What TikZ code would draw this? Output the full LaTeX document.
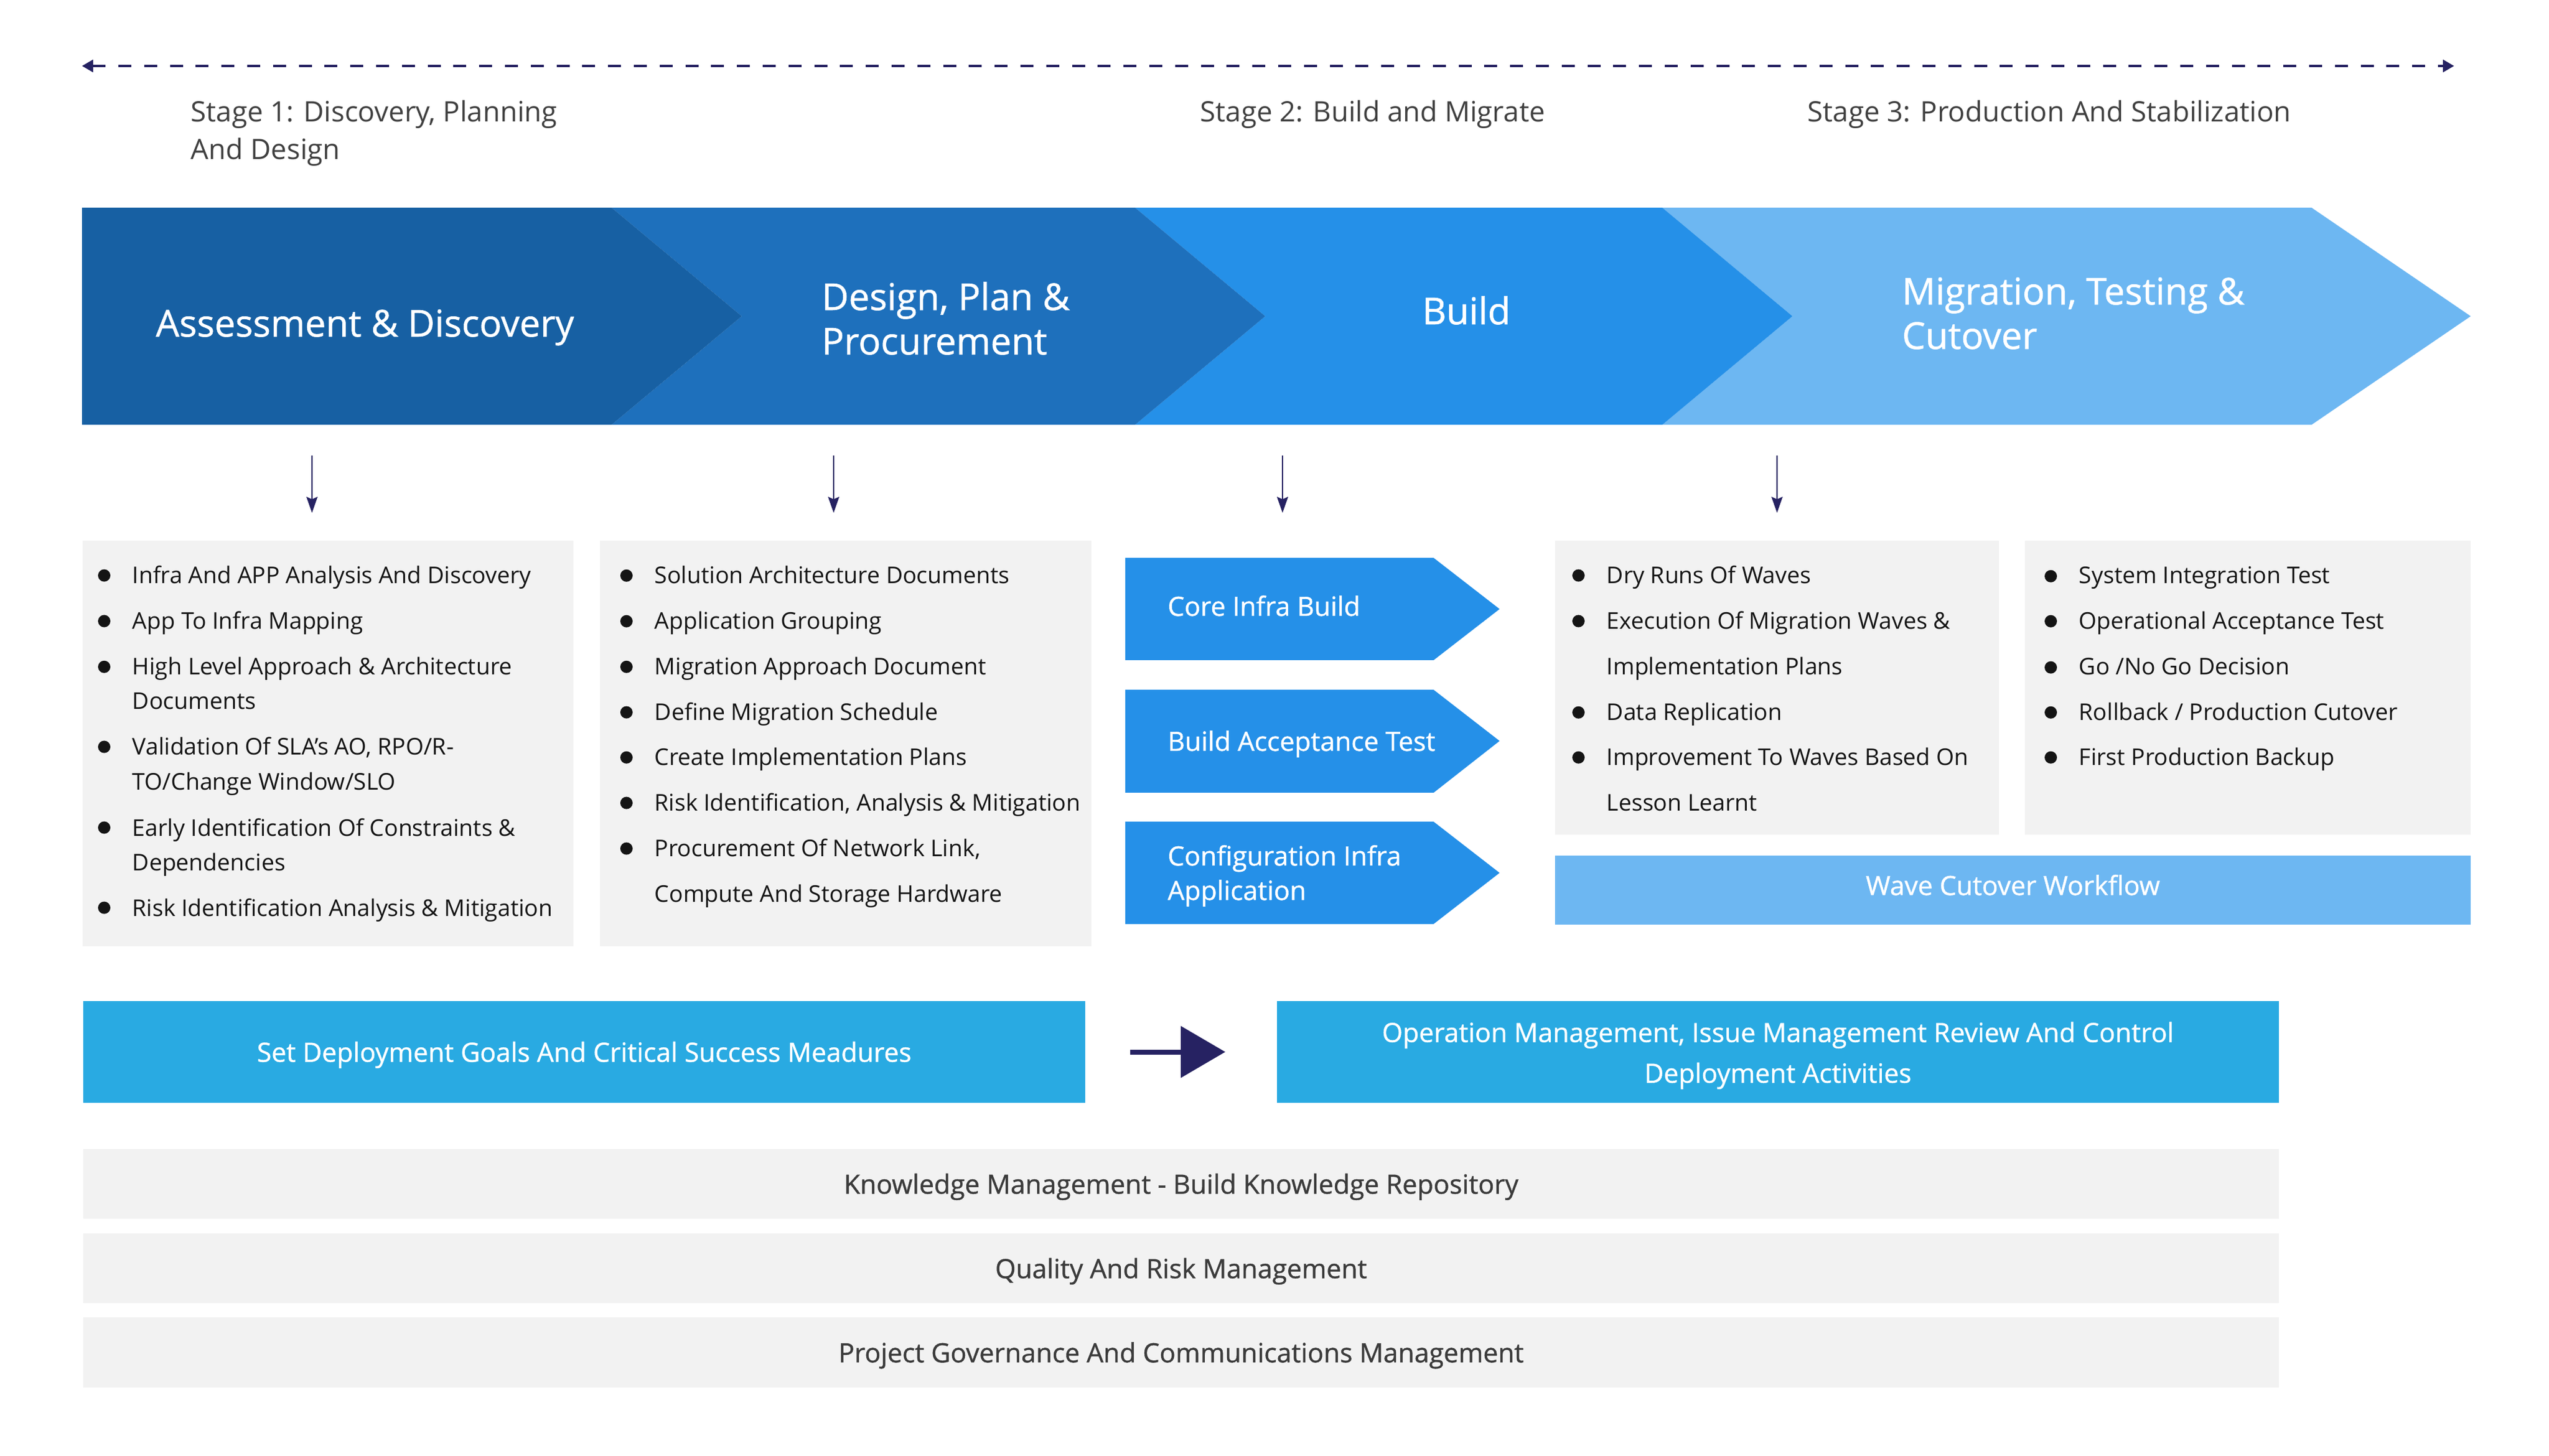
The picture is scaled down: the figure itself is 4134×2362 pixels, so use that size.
\documentclass[tikz,border=0pt]{standalone}
\usepackage{fontspec}
\setmainfont{Open Sans}
\newfontfamily\semib[FakeBold=0.9]{Open Sans}
\usetikzlibrary{arrows.meta,fit}
\definecolor{chevdark}{RGB}{23,96,163}
\definecolor{chevmid}{RGB}{30,112,188}
\definecolor{chevbright}{RGB}{37,144,232}
\definecolor{chevlight}{RGB}{109,183,242}
\definecolor{boxgray}{RGB}{242,242,242}
\definecolor{navy}{RGB}{38,34,98}
\definecolor{cyanbox}{RGB}{41,170,226}
\definecolor{stagegray}{RGB}{64,64,64}
\definecolor{itemtxt}{RGB}{20,20,20}
\definecolor{bargray}{RGB}{59,59,59}

\begin{document}
\begin{tikzpicture}[x=0.25pt,y=-0.25pt,
  stagetxt/.style={anchor=base west, align=left, inner sep=0, text=stagegray, font=\fontsize{11.4}{15.25}\selectfont},
  chevtxt/.style={anchor=base west, align=left, inner sep=0, text=white, font=\semib\fontsize{15}{18}\selectfont},
  pentxt/.style={anchor=base west, align=left, inner sep=0, text=white, font=\semib\fontsize{10.75}{14}\selectfont},
  itmA/.style={anchor=base west, align=left, inner sep=0, text=itemtxt, font=\fontsize{9.35}{14}\selectfont},
  itmB/.style={itmA, font=\fontsize{9.35}{18.5}\selectfont},
  graybox/.style={fill=boxgray, inner sep=0},
  bluebar/.style={fill=cyanbox, inner sep=0},
  bluetxt/.style={anchor=base, align=center, inner sep=0, text=white, font=\semib\fontsize{10.75}{16.5}\selectfont},
  bartxt/.style={anchor=base, inner sep=0, text=bargray, font=\semib\fontsize{10.75}{14}\selectfont},
  downarr/.style={draw=navy, line width=0.6pt, -{Stealth[length=6.5pt,width=4.5pt,inset=1pt]}},
  timeline/.style={draw=navy, line width=0.8pt, dash pattern=on 5.25pt off 5.2pt, {Triangle[length=4.5pt,width=5pt]}-{Triangle[length=4.5pt,width=5pt]}},
  bigarr/.style={draw=navy, line width=2pt, -{Triangle[length=18pt,width=20.5pt]}}]
\useasboundingbox (0,0) rectangle (4134,2362);
\fill[white] (0,0) rectangle (4134,2362);

% Timeline and stage titles
\coordinate (tl) at (133,107);
\coordinate (tr) at (3980,107);
\draw[timeline] (tl) -- (tr);
\node[stagetxt] (stage1) at (309,259) {Stage 1: Discovery, Planning\\And Design};
\node[stagetxt] (stage2) at (1946,198) {Stage 2: Build and Migrate};
\node[stagetxt] (stage3) at (2931,198) {Stage 3: Production And Stabilization};

% Chevron band
\fill[chevlight] (2696,337) -- (3749,337) -- (4007,513) -- (3749,689) -- (2696,689) -- (2907,513) -- cycle;
\fill[chevbright] (1841,337) -- (2696,337) -- (2907,513) -- (2696,689) -- (1841,689) -- (2052,513) -- cycle;
\fill[chevmid] (992,337) -- (1841,337) -- (2052,513) -- (1841,689) -- (992,689) -- (1203,513) -- cycle;
\fill[chevdark] (133,337) -- (992,337) -- (1203,513) -- (992,689) -- (133,689) -- cycle;
\node[chevtxt] (assess) at (252,546) {Assessment \& Discovery};
\node[chevtxt] (design) at (1332,575) {Design, Plan \&\\Procurement};
\node[chevtxt] (build) at (2306,526) {Build};
\node[chevtxt] (migrate) at (3084,566) {Migration, Testing \&\\Cutover};

% Down arrows
\foreach \x [count=\i] in {506,1352,2080,2882} {
  \coordinate (s\i) at (\x,739);
  \coordinate (e\i) at (\x,832);
  \draw[downarr] (s\i) -- (e\i);
}

% Activity boxes
\node[graybox, fit={(134,877) (930,1535)}] (box1) {};
\node[graybox, fit={(973,877) (1770,1535)}] (box2) {};
\node[graybox, fit={(2522,877) (3242,1354)}] (box3) {};
\node[graybox, fit={(3284,877) (4007,1354)}] (box4) {};

\node[itmA] (a1) at (214,947) {Infra And APP Analysis And Discovery};
\node[itmA] (a2) at (214,1021) {App To Infra Mapping};
\node[itmA] (a3) at (214,1151) {High Level Approach \& Architecture\\Documents};
\node[itmA] (a4) at (214,1281) {Validation Of SLA’s AO, RPO/R-\\TO/Change Window/SLO};
\node[itmA] (a5) at (214,1412) {Early Identification Of Constraints \&\\Dependencies};
\node[itmA] (a6) at (214,1486) {Risk Identification Analysis \& Mitigation};

\node[itmB] (b1) at (1061,947) {Solution Architecture Documents};
\node[itmB] (b2) at (1061,1021) {Application Grouping};
\node[itmB] (b3) at (1061,1095) {Migration Approach Document};
\node[itmB] (b4) at (1061,1169) {Define Migration Schedule};
\node[itmB] (b5) at (1061,1242) {Create Implementation Plans};
\node[itmB] (b6) at (1061,1316) {Risk Identification, Analysis \& Mitigation};
\node[itmB] (b7) at (1061,1464) {Procurement Of Network Link,\\Compute And Storage Hardware};

\node[itmB] (c1) at (2605,947) {Dry Runs Of Waves};
\node[itmB] (c2) at (2605,1095) {Execution Of Migration Waves \&\\Implementation Plans};
\node[itmB] (c3) at (2605,1169) {Data Replication};
\node[itmB] (c4) at (2605,1316) {Improvement To Waves Based On\\Lesson Learnt};

\node[itmB] (d1) at (3371,947) {System Integration Test};
\node[itmB] (d2) at (3371,1021) {Operational Acceptance Test};
\node[itmB] (d3) at (3371,1095) {Go /No Go Decision};
\node[itmB] (d4) at (3371,1169) {Rollback / Production Cutover};
\node[itmB] (d5) at (3371,1242) {First Production Backup};

% bullets sit beside the first line of each item
\foreach \b/\k in {a/6,b/7,c/4,d/5}
  \foreach \i in {1,...,\k}
    \fill[itemtxt] (\b\i.north west) ++(-45,16) circle[radius=2.5pt];

% Build steps
\fill[chevbright] (1825,905) -- (2325,905) -- (2432,988) -- (2325,1071) -- (1825,1071) -- cycle;
\fill[chevbright] (1825,1119) -- (2325,1119) -- (2432,1202) -- (2325,1286) -- (1825,1286) -- cycle;
\fill[chevbright] (1825,1333) -- (2325,1333) -- (2432,1416) -- (2325,1499) -- (1825,1499) -- cycle;
\node[pentxt] (core) at (1893,999) {Core Infra Build};
\node[pentxt] (accept) at (1893,1218) {Build Acceptance Test};
\node[pentxt] (config) at (1893,1460) {Configuration Infra\\Application};

\node[bluebar, fill=chevlight, fit={(2522,1388) (4007,1500)}] (wave) {};
\node[bluetxt] (wavetxt) at ([yshift=-2pt]wave.center) {Wave Cutover Workflow};

% Deployment row
\node[bluebar, fit={(135,1624) (1760,1789)}] (goals) {};
\node[bluebar, fit={(2071,1624) (3696,1789)}] (ops) {};
\node[bluetxt] (goalstxt) at ([yshift=-4pt]goals.center) {Set Deployment Goals And Critical Success Meadures};
\node[bluetxt] (opstxt) at ([yshift=-12.5pt]ops.center) {Operation Management, Issue Management Review And Control\\Deployment Activities};
\draw[bigarr, shorten <=18pt, shorten >=20.75pt] (goals.east) -- (ops.west);

% Management bars
\node[graybox, fit={(135,1864) (3696,1977)}] (know) {};
\node[graybox, fit={(135,2001) (3696,2114)}] (quality) {};
\node[graybox, fit={(135,2137) (3696,2251)}] (gov) {};
\node[bartxt] (knowtxt) at ([yshift=-4pt]know.center) {Knowledge Management - Build Knowledge Repository};
\node[bartxt] (qualitytxt) at ([yshift=-4pt]quality.center) {Quality And Risk Management};
\node[bartxt] (govtxt) at ([yshift=-4pt]gov.center) {Project Governance And Communications Management};
\end{tikzpicture}
\end{document}
